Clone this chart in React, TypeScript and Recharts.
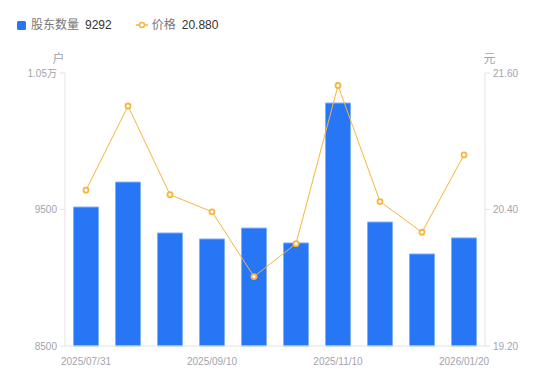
import {
  Bar,
  ComposedChart,
  Line,
  XAxis,
  YAxis,
} from "recharts";

const dates = [
  "2025/07/31",
  "2025/08/20",
  "2025/08/31",
  "2025/09/10",
  "2025/09/30",
  "2025/10/31",
  "2025/11/10",
  "2025/11/30",
  "2025/12/31",
  "2026/01/20",
];
const holders = [9518, 9701, 9328, 9284, 9364, 9255, 10280, 9408, 9174, 9292];
const prices = [20.57, 21.31, 20.53, 20.38, 19.81, 20.1, 21.49, 20.47, 20.2, 20.88];

const leftTicks = [8500, 9500, 10500];
const rightTicks = [19.2, 20.4, 21.6];

const data = dates.map((date, i) => ({
  date,
  holders: holders[i],
  price: prices[i],
}));

const BLUE = "#2776f6";
const ORANGE = "#f7b53d";
const LABEL = "#a3a3b0";
const AXIS = "#e3e3e8";
const FONT = "'Liberation Sans', Arial, 'Noto Sans CJK SC', sans-serif";

function fmtLeft(v: number) {
  return v >= 10000 ? `${v / 10000}万` : `${v}`;
}

function TopLegend() {
  const last = data[data.length - 1];
  return (
    <div
      style={{
        position: "absolute",
        left: 17,
        top: 17,
        display: "flex",
        alignItems: "center",
        fontFamily: FONT,
        fontSize: 12,
        color: "#333",
        lineHeight: "16px",
      }}
    >
      <span
        style={{
          width: 9,
          height: 9,
          background: BLUE,
          borderRadius: 1.5,
          marginRight: 5,
        }}
      />
      <span style={{ color: "#777", marginRight: 6 }}>股东数量</span>
      <span style={{ marginRight: 24 }}>{last.holders}</span>
      <svg width={12} height={8} style={{ marginRight: 4 }}>
        <line x1={0} y1={4} x2={12} y2={4} stroke={ORANGE} strokeWidth={1.5} />
        <circle cx={6} cy={4} r={2.5} fill="#fff" stroke={ORANGE} strokeWidth={1.5} />
      </svg>
      <span style={{ color: "#777", marginRight: 6 }}>价格</span>
      <span>{last.price.toFixed(3)}</span>
    </div>
  );
}

export default function App() {
  return (
    <div style={{ position: "absolute", left: 0, top: 0, width: 550, height: 381 }}>
      <TopLegend />
      <ComposedChart
        width={550}
        height={381}
        data={data}
        margin={{ top: 73, right: 0, left: 0, bottom: 0 }}
        barCategoryGap={8.5}
      >
        <XAxis
          dataKey="date"
          interval={2}
          height={35}
          stroke={AXIS}
          tickLine={false}
          tickMargin={6}
          tick={{ fill: LABEL, fontSize: 10, fontFamily: FONT }}
        />
        <YAxis
          yAxisId="left"
          domain={[8500, 10500]}
          ticks={leftTicks}
          width={65}
          stroke={AXIS}
          tickSize={5}
          tickMargin={3}
          tickFormatter={fmtLeft}
          tick={{ fill: LABEL, fontSize: 10, fontFamily: FONT }}
          label={{
            value: "户",
            position: "top",
            dx: 26,
            dy: -5,
            fill: LABEL,
            fontSize: 12,
            fontFamily: FONT,
          }}
        />
        <YAxis
          yAxisId="right"
          orientation="right"
          domain={[19.2, 21.6]}
          ticks={rightTicks}
          width={65}
          stroke={AXIS}
          tickSize={5}
          tickMargin={3}
          tickFormatter={(v: number) => v.toFixed(2)}
          tick={{ fill: LABEL, fontSize: 10, fontFamily: FONT }}
          label={{
            value: "元",
            position: "top",
            dx: -28,
            dy: -5,
            fill: LABEL,
            fontSize: 12,
            fontFamily: FONT,
          }}
        />
        <Bar
          yAxisId="left"
          dataKey="holders"
          fill={BLUE}
          stroke="#7fb0fb"
          strokeWidth={1}
          isAnimationActive={false}
        />
        <Line
          yAxisId="right"
          dataKey="price"
          type="linear"
          stroke={ORANGE}
          strokeWidth={1}
          dot={{ r: 2.5, fill: "#fff", stroke: ORANGE, strokeWidth: 1.8 }}
          activeDot={false}
          isAnimationActive={false}
        />
      </ComposedChart>
    </div>
  );
}
